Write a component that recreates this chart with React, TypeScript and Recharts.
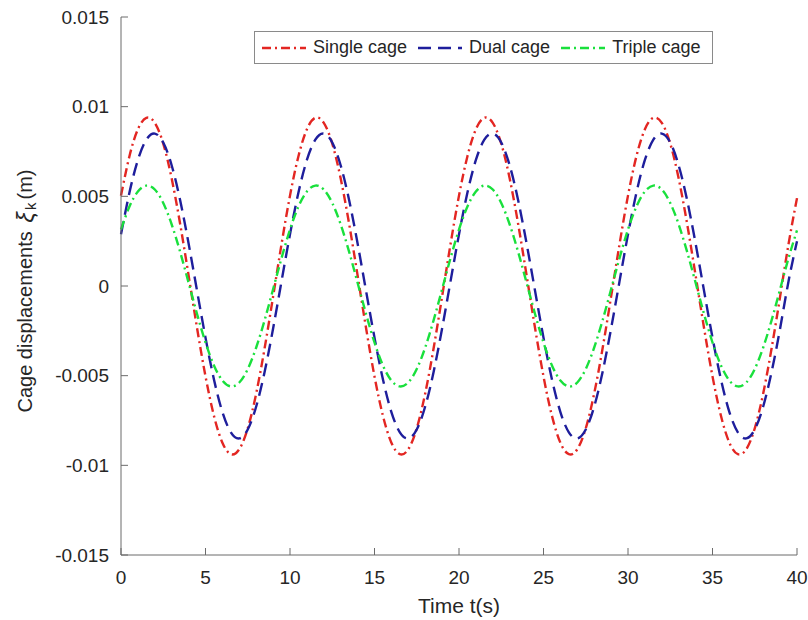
import { LineChart, Line, XAxis, YAxis } from "recharts";

document.body.style.margin = "0";

const time = [
  0, 0.5, 1, 1.5, 2, 2.5, 3, 3.5, 4, 4.5, 5, 5.5, 6, 6.5, 7, 7.5, 8, 8.5, 9, 9.5,
  10, 10.5, 11, 11.5, 12, 12.5, 13, 13.5, 14, 14.5, 15, 15.5, 16, 16.5, 17, 17.5, 18, 18.5, 19, 19.5,
  20, 20.5, 21, 21.5, 22, 22.5, 23, 23.5, 24, 24.5, 25, 25.5, 26, 26.5, 27, 27.5, 28, 28.5, 29, 29.5,
  30, 30.5, 31, 31.5, 32, 32.5, 33, 33.5, 34, 34.5, 35, 35.5, 36, 36.5, 37, 37.5, 38, 38.5, 39, 39.5,
  40,
];

const singleCage = [
  0.00504, 0.00724, 0.00874, 0.00938, 0.0091, 0.00794, 0.00599, 0.00346, 0.00059, -0.00234,
  -0.00504, -0.00724, -0.00874, -0.00938, -0.0091, -0.00794, -0.00599, -0.00346, -0.00059, 0.00234,
  0.00504, 0.00724, 0.00874, 0.00938, 0.0091, 0.00794, 0.00599, 0.00346, 0.00059, -0.00234,
  -0.00504, -0.00724, -0.00874, -0.00938, -0.0091, -0.00794, -0.00599, -0.00346, -0.00059, 0.00234,
  0.00504, 0.00724, 0.00874, 0.00938, 0.0091, 0.00794, 0.00599, 0.00346, 0.00059, -0.00234,
  -0.00504, -0.00724, -0.00874, -0.00938, -0.0091, -0.00794, -0.00599, -0.00346, -0.00059, 0.00234,
  0.00504, 0.00724, 0.00874, 0.00938, 0.0091, 0.00794, 0.00599, 0.00346, 0.00059, -0.00234,
  -0.00504, -0.00724, -0.00874, -0.00938, -0.0091, -0.00794, -0.00599, -0.00346, -0.00059, 0.00234,
  0.0049,
];

const dualCage = [
  0.00288, 0.00521, 0.00703, 0.00816, 0.0085, 0.008, 0.00672, 0.00478, 0.00237, -0.00027,
  -0.00288, -0.00521, -0.00703, -0.00816, -0.0085, -0.008, -0.00672, -0.00478, -0.00237, 0.00027,
  0.00288, 0.00521, 0.00703, 0.00816, 0.0085, 0.008, 0.00672, 0.00478, 0.00237, -0.00027,
  -0.00288, -0.00521, -0.00703, -0.00816, -0.0085, -0.008, -0.00672, -0.00478, -0.00237, 0.00027,
  0.00288, 0.00521, 0.00703, 0.00816, 0.0085, 0.008, 0.00672, 0.00478, 0.00237, -0.00027,
  -0.00288, -0.00521, -0.00703, -0.00816, -0.0085, -0.008, -0.00672, -0.00478, -0.00237, 0.00027,
  0.00288, 0.00521, 0.00703, 0.00816, 0.0085, 0.008, 0.00672, 0.00478, 0.00237, -0.00027,
  -0.00288, -0.00521, -0.00703, -0.00816, -0.0085, -0.008, -0.00672, -0.00478, -0.00237, 0.00027,
  0.0025,
];

const tripleCage = [
  0.00315, 0.00443, 0.00527, 0.0056, 0.00538, 0.00463, 0.00343, 0.0019, 0.00018, -0.00156,
  -0.00315, -0.00443, -0.00527, -0.0056, -0.00538, -0.00463, -0.00343, -0.0019, -0.00018, 0.00156,
  0.00315, 0.00443, 0.00527, 0.0056, 0.00538, 0.00463, 0.00343, 0.0019, 0.00018, -0.00156,
  -0.00315, -0.00443, -0.00527, -0.0056, -0.00538, -0.00463, -0.00343, -0.0019, -0.00018, 0.00156,
  0.00315, 0.00443, 0.00527, 0.0056, 0.00538, 0.00463, 0.00343, 0.0019, 0.00018, -0.00156,
  -0.00315, -0.00443, -0.00527, -0.0056, -0.00538, -0.00463, -0.00343, -0.0019, -0.00018, 0.00156,
  0.00315, 0.00443, 0.00527, 0.0056, 0.00538, 0.00463, 0.00343, 0.0019, 0.00018, -0.00156,
  -0.00315, -0.00443, -0.00527, -0.0056, -0.00538, -0.00463, -0.00343, -0.0019, -0.00018, 0.00156,
  0.0031,
];

const xTicks = [0, 5, 10, 15, 20, 25, 30, 35, 40];
const yTicks = [-0.015, -0.01, -0.005, 0, 0.005, 0.01, 0.015];

const series = [
  { key: "single", name: "Single cage", color: "#e32622", dash: "9 4 2 4" },
  { key: "dual", name: "Dual cage", color: "#1e1e9c", dash: "13 7" },
  { key: "triple", name: "Triple cage", color: "#19e03c", dash: "9 4 2 4" },
];

const data = time.map((t, i) => ({
  t,
  single: singleCage[i],
  dual: dualCage[i],
  triple: tripleCage[i],
}));

const FONT = "Liberation Sans, Arial, sans-serif";
const AXIS = "#6b6b6b";
const TEXT = "#262626";

const LegendBox = () => (
  <div
    style={{
      position: "absolute",
      top: 31,
      left: 254,
      width: 457,
      height: 31,
      border: "1px solid #8a8a8a",
      background: "#fff",
      display: "flex",
      alignItems: "center",
      fontFamily: FONT,
      fontSize: 18,
      color: TEXT,
    }}
  >
    {series.map((s) => (
      <div key={s.key} style={{ display: "flex", alignItems: "center", marginLeft: 6 }}>
        <svg width={46} height={10}>
          <line x1={1} y1={5} x2={45} y2={5} stroke={s.color} strokeWidth={2.4} strokeDasharray={s.dash} />
        </svg>
        <span style={{ marginLeft: 6, marginRight: 4 }}>{s.name}</span>
      </div>
    ))}
  </div>
);

const YLabel = () => (
  <text
    x={25}
    y={291}
    transform="rotate(-90 25 291)"
    textAnchor="middle"
    dominantBaseline="central"
    fontFamily={FONT}
    fontSize={20}
    fill={TEXT}
  >
    Cage displacements{"  "}
    <tspan fontSize={24} fontStyle="italic" dx={3}>ξ</tspan>
    <tspan fontSize={15} dy={5} dx={2}>k</tspan>
    <tspan dy={-5} dx={3}>(m)</tspan>
  </text>
);

export default function App() {
  const tickStyle = { fontFamily: FONT, fontSize: 19, fill: TEXT };
  return (
    <div style={{ position: "relative", width: 808, height: 620, background: "#fff" }}>
      <LineChart
        width={808}
        height={620}
        data={data}
        margin={{ top: 17, right: 11, bottom: 0, left: 0 }}
        style={{ overflow: "visible" }}
      >
        <XAxis
          dataKey="t"
          type="number"
          domain={[0, 40]}
          ticks={xTicks}
          height={65}
          stroke={AXIS}
          tickSize={-7}
          tickMargin={23}
          tick={tickStyle}
          label={{
            value: "Time t(s)",
            position: "insideBottom",
            offset: 7,
            style: { fontFamily: FONT, fontSize: 21, fill: TEXT },
          }}
        />
        <XAxis
          xAxisId="top"
          orientation="top"
          dataKey="t"
          type="number"
          domain={[0, 40]}
          ticks={xTicks}
          height={0}
          stroke={AXIS}
          tickSize={-7}
          tick={false}
        />
        <YAxis
          type="number"
          domain={[-0.015, 0.015]}
          ticks={yTicks}
          width={121}
          stroke={AXIS}
          tickSize={-7}
          tickMargin={19}
          tick={tickStyle}
          label={{ content: () => <YLabel /> }}
        />
        <YAxis
          yAxisId="right"
          orientation="right"
          type="number"
          domain={[-0.015, 0.015]}
          ticks={yTicks}
          width={0}
          stroke={AXIS}
          tickSize={-7}
          tick={false}
        />
        {series.map((s) => (
          <Line
            key={s.key}
            dataKey={s.key}
            name={s.name}
            type="natural"
            stroke={s.color}
            strokeWidth={2.4}
            strokeDasharray={s.dash}
            dot={false}
            activeDot={false}
            isAnimationActive={false}
          />
        ))}
      </LineChart>
      <LegendBox />
    </div>
  );
}
